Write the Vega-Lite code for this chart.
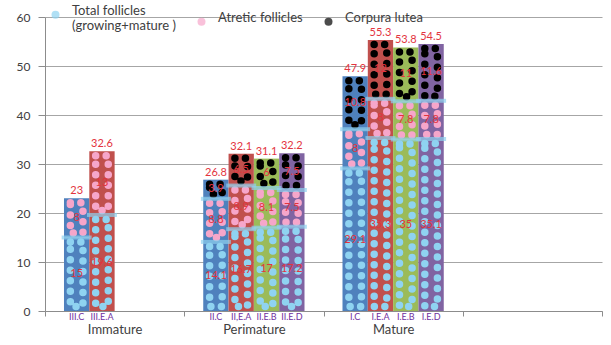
{
  "$schema": "https://vega.github.io/schema/vega-lite/v6.json",
  "width": 557,
  "height": 294,
  "autosize": "none",
  "padding": {"left": 45, "top": 17, "right": 9, "bottom": 34},
  "background": "white",
  "config": {"font": "Lato", "view": {"stroke": null}},
  "data": {
    "values": [
      {"group": "Immature", "slot": 1, "bar": "III.C", "k": 1, "seg": "Total follicles (growing+mature )", "value": 15},
      {"group": "Immature", "slot": 1, "bar": "III.C", "k": 2, "seg": "Atretic follicles", "value": 8},
      {"group": "Immature", "slot": 2, "bar": "III.E.A", "k": 1, "seg": "Total follicles (growing+mature )", "value": 19.6},
      {"group": "Immature", "slot": 2, "bar": "III.E.A", "k": 2, "seg": "Atretic follicles", "value": 13},
      {"group": "Perimature", "slot": 1, "bar": "II.C", "k": 1, "seg": "Total follicles (growing+mature )", "value": 14.1},
      {"group": "Perimature", "slot": 1, "bar": "II.C", "k": 2, "seg": "Atretic follicles", "value": 8.8},
      {"group": "Perimature", "slot": 1, "bar": "II.C", "k": 3, "seg": "Corpura lutea", "value": 3.9},
      {"group": "Perimature", "slot": 2, "bar": "II,E.A", "k": 1, "seg": "Total follicles (growing+mature )", "value": 16.7},
      {"group": "Perimature", "slot": 2, "bar": "II,E.A", "k": 2, "seg": "Atretic follicles", "value": 8.9},
      {"group": "Perimature", "slot": 2, "bar": "II,E.A", "k": 3, "seg": "Corpura lutea", "value": 6.5},
      {"group": "Perimature", "slot": 3, "bar": "II.E.B", "k": 1, "seg": "Total follicles (growing+mature )", "value": 17},
      {"group": "Perimature", "slot": 3, "bar": "II.E.B", "k": 2, "seg": "Atretic follicles", "value": 8.1},
      {"group": "Perimature", "slot": 3, "bar": "II.E.B", "k": 3, "seg": "Corpura lutea", "value": 6},
      {"group": "Perimature", "slot": 4, "bar": "II.E.D", "k": 1, "seg": "Total follicles (growing+mature )", "value": 17.2},
      {"group": "Perimature", "slot": 4, "bar": "II.E.D", "k": 2, "seg": "Atretic follicles", "value": 7.5},
      {"group": "Perimature", "slot": 4, "bar": "II.E.D", "k": 3, "seg": "Corpura lutea", "value": 7.5},
      {"group": "Mature", "slot": 1, "bar": "I.C", "k": 1, "seg": "Total follicles (growing+mature )", "value": 29.1},
      {"group": "Mature", "slot": 1, "bar": "I.C", "k": 2, "seg": "Atretic follicles", "value": 8},
      {"group": "Mature", "slot": 1, "bar": "I.C", "k": 3, "seg": "Corpura lutea", "value": 10.8},
      {"group": "Mature", "slot": 2, "bar": "I.E.A", "k": 1, "seg": "Total follicles (growing+mature )", "value": 35.3},
      {"group": "Mature", "slot": 2, "bar": "I.E.A", "k": 2, "seg": "Atretic follicles", "value": 8},
      {"group": "Mature", "slot": 2, "bar": "I.E.A", "k": 3, "seg": "Corpura lutea", "value": 12},
      {"group": "Mature", "slot": 3, "bar": "I.E.B", "k": 1, "seg": "Total follicles (growing+mature )", "value": 35},
      {"group": "Mature", "slot": 3, "bar": "I.E.B", "k": 2, "seg": "Atretic follicles", "value": 7.8},
      {"group": "Mature", "slot": 3, "bar": "I.E.B", "k": 3, "seg": "Corpura lutea", "value": 11},
      {"group": "Mature", "slot": 4, "bar": "I.E.D", "k": 1, "seg": "Total follicles (growing+mature )", "value": 35.1},
      {"group": "Mature", "slot": 4, "bar": "I.E.D", "k": 2, "seg": "Atretic follicles", "value": 7.8},
      {"group": "Mature", "slot": 4, "bar": "I.E.D", "k": 3, "seg": "Corpura lutea", "value": 11.6}
    ]
  },
  "transform": [
    {"stack": "value", "groupby": ["group", "slot"], "sort": [{"field": "k"}], "as": ["y0", "y1"]},
    {"calculate": "(datum.y0 + datum.y1) / 2", "as": "mid"}
  ],
  "encoding": {
    "x": {
      "field": "group", "type": "nominal",
      "scale": {"domain": ["Immature", "Perimature", "Mature", ""], "paddingInner": 0, "paddingOuter": 0},
      "axis": {"title": null, "labelAngle": 0, "labelFontSize": 13, "labelColor": "#404040", "labelBaseline": "top", "labelPadding": 7, "tickBand": "extent", "tickSize": 5, "tickColor": "#8C8C8C", "domainColor": "#8C8C8C", "grid": false}
    },
    "xOffset": {"field": "slot", "type": "nominal", "scale": {"domain": [1, 2, 3, 4], "paddingInner": 0, "paddingOuter": 0.75}}
  },
  "layer": [
    {
      "mark": {"type": "bar"},
      "encoding": {
        "y": {"field": "y1", "type": "quantitative", "scale": {"domain": [0, 60], "nice": false},
          "axis": {"title": null, "values": [0, 10, 20, 30, 40, 50, 60], "grid": true, "gridColor": "#A6A6A6", "tickSize": 7, "tickColor": "#8C8C8C", "domainColor": "#8C8C8C", "labelPadding": 8, "labelFontSize": 12, "labelColor": "#404040"}},
        "y2": {"field": "y0"},
        "fill": {
          "condition": [
            {"test": "datum.slot == 1", "value": "#4F81BD"},
            {"test": "datum.slot == 2", "value": "#C0504D"},
            {"test": "datum.slot == 3", "value": "#9BBB59"}
          ],
          "value": "#8064A2"
        }
      }
    },
    {
      "mark": {"type": "bar", "filled": false, "width": 12.6, "strokeWidth": 7.5, "strokeDash": [0, 10.5], "strokeCap": "round", "yOffset": 4.5, "y2Offset": -4.5},
      "encoding": {
        "y": {"field": "y1", "type": "quantitative"},
        "y2": {"field": "y0"},
        "stroke": {
          "condition": [
            {"test": "datum.k == 1", "value": "#8FD3F1"},
            {"test": "datum.k == 2", "value": "#F6A6CA"}
          ],
          "value": "#000000"
        }
      }
    },
    {
      "mark": {"type": "text", "fontSize": 11, "color": "#E3343E"},
      "encoding": {
        "y": {"field": "mid", "type": "quantitative"},
        "text": {"field": "value", "type": "quantitative"}
      }
    },
    {
      "transform": [{"filter": "datum.k == 1 || (datum.k == 2 && datum.group != 'Immature')"}],
      "mark": {"type": "tick", "thickness": 4, "size": 30, "color": "#8ED2F0"},
      "encoding": {"y": {"field": "y1", "type": "quantitative"}}
    },
    {
      "transform": [{"aggregate": [{"op": "sum", "field": "value", "as": "total"}], "groupby": ["group", "slot"]}],
      "mark": {"type": "text", "fontSize": 11, "color": "#E3343E", "baseline": "bottom", "dy": -2},
      "encoding": {
        "y": {"field": "total", "type": "quantitative"},
        "text": {"field": "total", "type": "quantitative", "format": ".3~g"}
      }
    },
    {
      "transform": [{"filter": "datum.k == 1"}],
      "mark": {"type": "text", "fontSize": 9, "color": "#7030A0", "baseline": "top", "dy": 2},
      "encoding": {
        "y": {"datum": 0, "type": "quantitative"},
        "text": {"field": "bar", "type": "nominal"}
      }
    },
    {
      "mark": {"type": "point", "filled": true, "shape": "circle", "size": 0},
      "encoding": {
        "y": {"field": "y1", "type": "quantitative"},
        "color": {
          "field": "seg", "type": "nominal",
          "scale": {"domain": ["Total follicles (growing+mature )", "Atretic follicles", "Corpura lutea"], "range": ["#8FD3F1", "#F6A6CA", "#000000"]},
          "legend": {
            "title": null, "orient": "none", "legendX": 4, "legendY": -9, "direction": "horizontal",
            "symbolType": "circle", "symbolSize": 64, "labelFontSize": 13, "labelColor": "#404040",
            "labelOffset": 10, "columnPadding": 19, "labelLimit": 0, "labelBaseline": "alphabetic",
            "labelExpr": "datum.label == 'Total follicles (growing+mature )' ? ['Total follicles', '(growing+mature )'] : datum.label"
          }
        }
      }
    }
  ]
}
